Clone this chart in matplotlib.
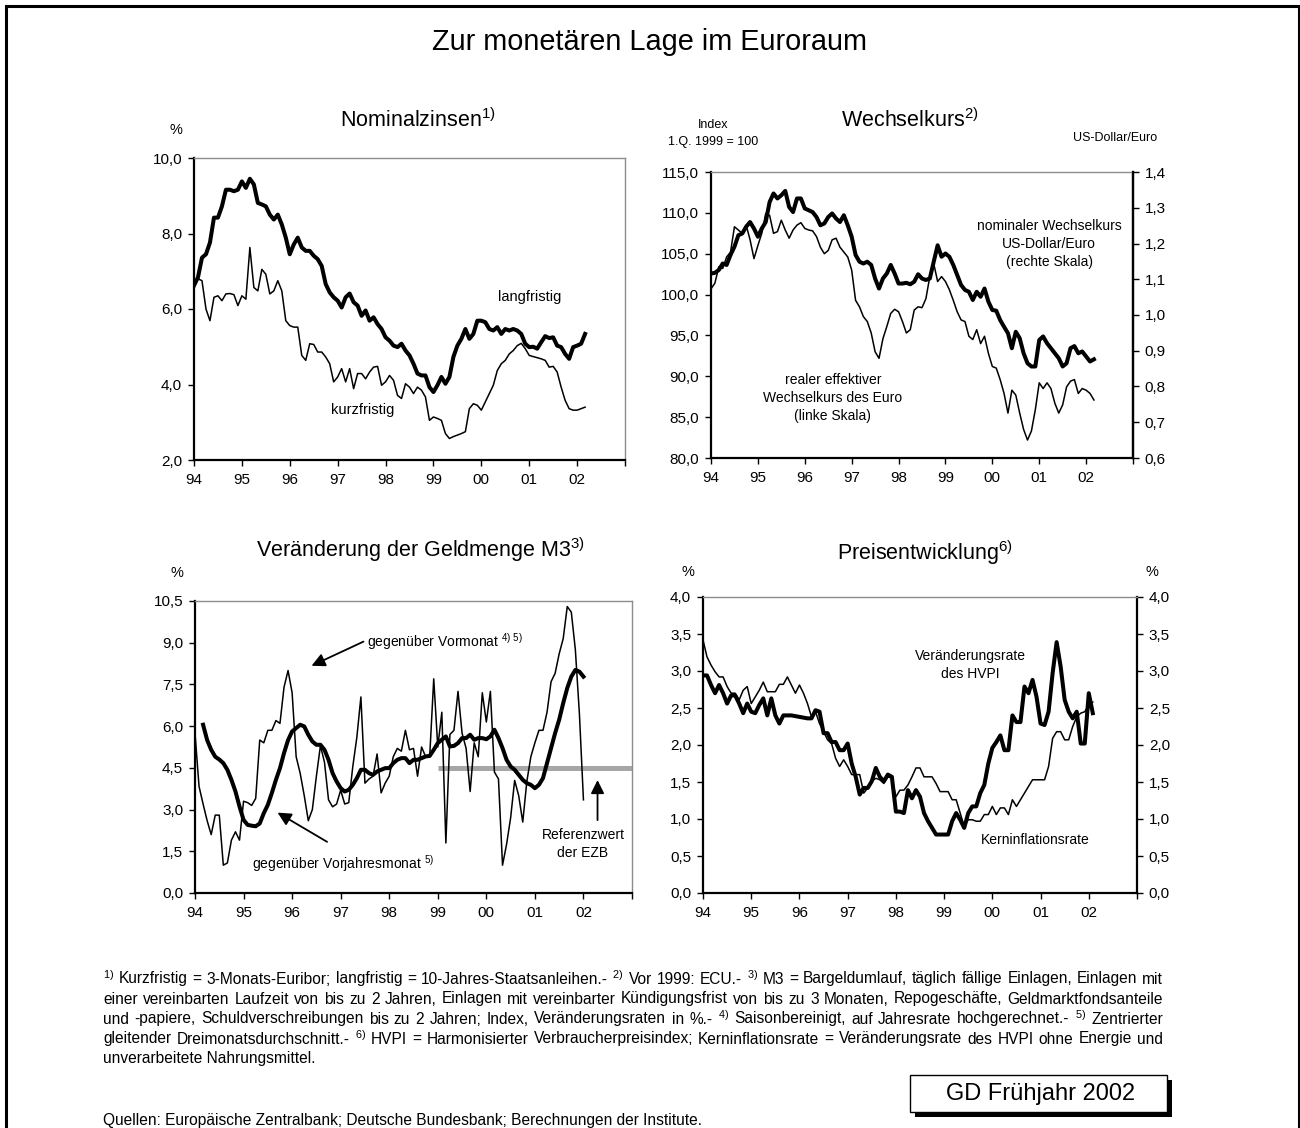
import numpy as np
import matplotlib

matplotlib.use('Agg')

import matplotlib.pyplot as plt
from matplotlib.ticker import FuncFormatter
from matplotlib.patches import Rectangle

plt.rcParams['font.family'] = ['Liberation Sans', 'DejaVu Sans']
plt.rcParams['mathtext.fontset'] = 'custom'
plt.rcParams['mathtext.rm'] = 'Liberation Sans'
plt.rcParams['mathtext.it'] = 'Liberation Sans:italic'

# monthly data, starting January 1994

zins_lang = [6.62, 6.84, 7.36, 7.45, 7.76, 8.42, 8.42, 8.72, 9.16, 9.16, 9.12, 9.16,
             9.38, 9.21, 9.45, 9.30, 8.81, 8.77, 8.72, 8.50, 8.37, 8.50, 8.24, 7.89,
             7.45, 7.71, 7.89, 7.63, 7.54, 7.54, 7.41, 7.32, 7.14, 6.66, 6.44, 6.31,
             6.22, 6.04, 6.31, 6.41, 6.18, 6.09, 5.82, 5.96, 5.69, 5.78, 5.60, 5.47,
             5.25, 5.16, 5.03, 4.99, 5.08, 4.90, 4.77, 4.55, 4.29, 4.24, 4.24, 3.93,
             3.80, 3.98, 4.20, 4.02, 4.20, 4.73, 5.03, 5.21, 5.47, 5.21, 5.34, 5.69,
             5.69, 5.65, 5.47, 5.43, 5.52, 5.34, 5.47, 5.43, 5.47, 5.43, 5.34, 5.08,
             4.99, 5.00, 4.95, 5.12, 5.28, 5.23, 5.25, 5.03, 4.99, 4.81, 4.68, 4.99,
             5.03, 5.08, 5.34]

zins_kurz = [6.62, 6.80, 6.75, 6.00, 5.69, 6.31, 6.35, 6.22, 6.40, 6.41, 6.38, 6.09,
             6.35, 6.26, 7.63, 6.57, 6.48, 7.05, 6.92, 6.40, 6.48, 6.75, 6.48, 5.69,
             5.56, 5.52, 5.52, 4.77, 4.64, 5.08, 5.06, 4.86, 4.86, 4.73, 4.55, 4.07,
             4.20, 4.42, 4.07, 4.42, 3.89, 4.29, 4.29, 4.15, 4.33, 4.46, 4.48, 3.98,
             4.07, 4.24, 4.11, 3.71, 3.63, 4.02, 3.93, 3.76, 3.93, 3.85, 3.67, 3.05,
             3.14, 3.10, 3.05, 2.70, 2.57, 2.62, 2.66, 2.70, 2.75, 3.36, 3.49, 3.45,
             3.32, 3.54, 3.76, 3.98, 4.37, 4.55, 4.64, 4.81, 4.90, 5.03, 5.09, 4.95,
             4.77, 4.74, 4.71, 4.68, 4.64, 4.46, 4.48, 4.33, 3.93, 3.58, 3.36, 3.32,
             3.32, 3.36, 3.40]

# US-Dollar/Euro (rechte Skala)
kurs_nominal = [1.116, 1.118, 1.126, 1.144, 1.140, 1.168, 1.191, 1.223, 1.228, 1.247, 1.260, 1.242,
                1.219, 1.242, 1.260, 1.316, 1.340, 1.326, 1.335, 1.347, 1.302, 1.288, 1.326, 1.326,
                1.298, 1.293, 1.288, 1.274, 1.251, 1.256, 1.274, 1.284, 1.270, 1.260, 1.279, 1.251,
                1.219, 1.168, 1.149, 1.144, 1.149, 1.140, 1.102, 1.074, 1.102, 1.116, 1.140, 1.116,
                1.088, 1.088, 1.090, 1.086, 1.093, 1.114, 1.102, 1.098, 1.102, 1.149, 1.195, 1.163,
                1.172, 1.163, 1.140, 1.112, 1.084, 1.070, 1.065, 1.042, 1.065, 1.051, 1.074, 1.037,
                1.014, 1.012, 0.986, 0.967, 0.949, 0.907, 0.953, 0.935, 0.893, 0.865, 0.856, 0.856,
                0.930, 0.940, 0.921, 0.907, 0.893, 0.879, 0.856, 0.865, 0.907, 0.913, 0.893, 0.898,
                0.884, 0.870, 0.876]

# Index 1.Q. 1999 = 100 (linke Skala)
kurs_real = [100.7, 101.4, 103.4, 103.2, 104.6, 105.2, 108.3, 107.9, 107.5, 108.5, 106.7, 104.4,
             106.0, 107.5, 109.9, 109.7, 107.5, 107.7, 109.1, 107.9, 106.9, 107.9, 108.5, 108.8,
             108.1, 107.9, 107.8, 107.1, 105.8, 105.0, 105.4, 106.7, 106.9, 105.8, 105.2, 104.6,
             103.0, 99.3, 98.5, 97.3, 96.7, 95.3, 93.0, 92.2, 94.6, 96.1, 97.7, 98.2,
             97.9, 96.7, 95.3, 95.7, 98.1, 98.5, 98.4, 99.5, 102.2, 103.8, 101.6, 102.2,
             101.6, 100.6, 99.3, 97.9, 96.9, 96.7, 94.9, 94.5, 95.7, 94.0, 94.9, 92.8,
             91.2, 91.0, 89.6, 87.9, 85.5, 88.3, 87.7, 85.5, 83.5, 82.2, 83.3, 85.9,
             89.2, 88.5, 89.2, 88.5, 86.7, 85.5, 86.5, 88.7, 89.4, 89.6, 87.9, 88.5,
             88.3, 87.9, 87.1]

m3_vormonat = [5.75, 3.83, 3.2, 2.6, 2.1, 2.8, 2.8, 1.0, 1.08, 1.9, 2.2, 1.9,
               3.3, 3.25, 3.15, 3.4, 5.5, 5.4, 5.85, 5.85, 6.2, 6.1, 7.4, 8.0,
               7.2, 4.9, 4.3, 3.5, 2.6, 3.0, 4.2, 5.3, 4.7, 3.35, 3.1, 3.2,
               3.7, 3.2, 3.25, 4.55, 5.6, 7.05, 3.95, 4.1, 4.2, 5.0, 3.6, 3.95,
               4.2, 4.9, 5.2, 5.1, 5.85, 5.15, 5.2, 4.2, 5.25, 4.9, 4.9, 7.7,
               5.25, 6.5, 1.8, 5.7, 5.85, 7.25, 5.75, 5.2, 3.65, 5.4, 4.9, 7.2,
               6.15, 7.25, 4.35, 4.1, 1.0, 1.75, 2.7, 4.05, 3.5, 2.55, 4.0, 4.9,
               5.4, 5.85, 5.85, 6.5, 7.6, 7.9, 8.6, 9.15, 10.3, 10.1, 8.75, 6.45,
               3.35]

# centred average, starts March 1994
m3_vorjahr_start = 2
m3_vorjahr = [6.05, 5.5, 5.15, 4.9, 4.8, 4.67, 4.43, 4.07, 3.65, 3.11,
              2.63, 2.45, 2.42, 2.4, 2.5, 2.87, 3.17, 3.6, 4.07, 4.49, 5.03, 5.5,
              5.81, 5.93, 6.05, 5.99, 5.69, 5.45, 5.33, 5.33, 5.15, 4.79, 4.31, 4.01,
              3.77, 3.65, 3.71, 3.89, 4.13, 4.43, 4.43, 4.31, 4.25, 4.37, 4.43, 4.49,
              4.49, 4.67, 4.79, 4.85, 4.85, 4.67, 4.79, 4.79, 4.85, 4.91, 4.93, 5.15,
              5.39, 5.51, 5.63, 5.27, 5.29, 5.39, 5.57, 5.57, 5.69, 5.51, 5.57, 5.57,
              5.53, 5.63, 5.87, 5.57, 5.21, 4.79, 4.55, 4.43, 4.25, 4.07, 3.95, 3.89,
              3.77, 3.89, 4.13, 4.67, 5.21, 5.75, 6.23, 6.83, 7.37, 7.78, 8.02, 7.96,
              7.78]

referenzwert = 4.5
referenz_ab = 1999

preis_kern = [3.42, 3.19, 3.08, 2.99, 2.92, 2.92, 2.79, 2.70, 2.70, 2.61, 2.74, 2.79,
              2.56, 2.65, 2.74, 2.85, 2.72, 2.72, 2.72, 2.82, 2.82, 2.92, 2.81, 2.70,
              2.81, 2.70, 2.56, 2.38, 2.45, 2.29, 2.18, 2.07, 2.02, 1.82, 1.71, 1.80,
              1.71, 1.60, 1.60, 1.60, 1.35, 1.42, 1.51, 1.55, 1.53, 1.48, 1.57, 1.55,
              1.30, 1.39, 1.39, 1.46, 1.57, 1.69, 1.69, 1.57, 1.57, 1.57, 1.48, 1.37,
              1.37, 1.37, 1.26, 1.26, 1.08, 0.90, 0.99, 0.99, 0.97, 0.97, 1.06, 1.06,
              1.17, 1.06, 1.15, 1.15, 1.06, 1.26, 1.17, 1.26, 1.35, 1.44, 1.53, 1.53,
              1.53, 1.53, 1.71, 2.09, 2.18, 2.18, 2.07, 2.07, 2.25, 2.38, 2.43, 2.45,
              2.54, 2.58]

preis_hvpi = [2.94, 2.94, 2.81, 2.70, 2.81, 2.70, 2.56, 2.67, 2.67, 2.56, 2.43, 2.56,
              2.45, 2.43, 2.54, 2.63, 2.40, 2.63, 2.40, 2.29, 2.40, 2.40, 2.40, 2.39,
              2.38, 2.37, 2.36, 2.36, 2.47, 2.45, 2.16, 2.16, 2.04, 2.04, 1.93, 1.93,
              2.02, 1.75, 1.57, 1.33, 1.42, 1.42, 1.51, 1.69, 1.57, 1.51, 1.60, 1.57,
              1.10, 1.10, 1.08, 1.39, 1.28, 1.39, 1.30, 1.08, 0.97, 0.88, 0.79, 0.79,
              0.79, 0.79, 0.97, 1.08, 0.99, 0.88, 1.08, 1.17, 1.17, 1.35, 1.46, 1.75,
              1.96, 2.04, 2.13, 1.93, 1.93, 2.40, 2.31, 2.31, 2.79, 2.70, 2.88, 2.65,
              2.29, 2.27, 2.45, 2.97, 3.39, 3.06, 2.61, 2.45, 2.36, 2.45, 2.02, 2.02,
              2.70, 2.43]

jahre = list(range(1994, 2004))
jahr_labels = ['94', '95', '96', '97', '98', '99', '00', '01', '02', '']

fussnoten = [
    '$^{1)}$ Kurzfristig = 3-Monats-Euribor; langfristig = 10-Jahres-Staatsanleihen.-  $^{2)}$ Vor 1999: ECU.- $^{3)}$ M3 = Bargeldumlauf, täglich fällige Einlagen, Einlagen mit',
    'einer vereinbarten Laufzeit von bis zu 2 Jahren, Einlagen mit vereinbarter Kündigungsfrist von bis zu 3 Monaten, Repogeschäfte, Geldmarktfondsanteile',
    'und -papiere, Schuldverschreibungen bis zu 2 Jahren; Index, Veränderungsraten in %.-  $^{4)}$ Saisonbereinigt, auf Jahresrate hochgerechnet.-  $^{5)}$ Zentrierter',
    'gleitender Dreimonatsdurchschnitt.- $^{6)}$ HVPI = Harmonisierter Verbraucherpreisindex; Kerninflationsrate = Veränderungsrate des HVPI ohne Energie und',
    'unverarbeitete Nahrungsmittel.',
]
quellen = 'Quellen: Europäische Zentralbank; Deutsche Bundesbank; Berechnungen der Institute.'

W, H = 1300, 1128
THICK = 2.9
THIN = 1.1
GREY = '#8c8c8c'
FN_SIZE = 11.2


def monate(n, start=0):
    return 1994 + (start + np.arange(n)) / 12.0


def komma(v, pos):
    return ('%.1f' % v).replace('.', ',')


def px_axes(fig, x0, y0, x1, y1):
    return fig.add_axes([x0 / W, 1 - y1 / H, (x1 - x0) / W, (y1 - y0) / H])


def ftext(fig, x, y, s, **kw):
    kw.setdefault('ha', 'center')
    kw.setdefault('va', 'center')
    return fig.text(x / W, 1 - y / H, s, **kw)


def style(ax, ylim, yticks, right_black=False):
    ax.set_xlim(1994, 2003)
    ax.set_ylim(*ylim)
    ax.set_xticks(jahre)
    ax.set_xticklabels(jahr_labels)
    ax.set_yticks(yticks)
    ax.yaxis.set_major_formatter(FuncFormatter(komma))
    ax.tick_params(direction='out', length=4, width=1, labelsize=11)
    ax.tick_params(axis='x', pad=5.5)
    ax.tick_params(axis='y', pad=4.5)
    for s in ['left', 'bottom']:
        ax.spines[s].set_linewidth(1.6)
        ax.spines[s].set_color('black')
    ax.spines['top'].set_linewidth(1.0)
    ax.spines['top'].set_color(GREY)
    if right_black:
        ax.spines['right'].set_linewidth(1.6)
        ax.spines['right'].set_color('black')
    else:
        ax.spines['right'].set_linewidth(1.0)
        ax.spines['right'].set_color(GREY)


def pfeil(ax, kopf, schwanz):
    ax.annotate('', xy=kopf, xytext=schwanz,
                arrowprops=dict(arrowstyle='-|>', lw=1.3, color='black',
                                mutation_scale=20, shrinkA=0, shrinkB=0))


def blocksatz(fig, x0, x1, y, zeile, **kw):
    # justified line: place the words one by one
    woerter = zeile.split()
    texte = [ftext(fig, x0, y, w, ha='left', **kw) for w in woerter]
    r = fig.canvas.get_renderer()
    breiten = [t.get_window_extent(r).width for t in texte]
    luecke = (x1 - x0 - sum(breiten)) / max(len(woerter) - 1, 1)
    luecke = max(luecke, 3.0)
    x = x0
    for t, b in zip(texte, breiten):
        t.set_x(x / W)
        x += b + luecke


fig = plt.figure(figsize=(W / 100.0, H / 100.0), dpi=100)

# outer frame
fig.patches.append(Rectangle((6.0 / W, -0.01), (1299.0 - 6) / W, 1 - 6.0 / H + 0.01,
                             transform=fig.transFigure, fill=False, lw=2.2, color='black'))

ftext(fig, 650, 42, 'Zur monetären Lage im Euroraum', fontsize=20.8)

# --- Nominalzinsen
ax1 = px_axes(fig, 194, 158, 625, 460)
style(ax1, (2, 10), [2, 4, 6, 8, 10])
ax1.plot(monate(len(zins_kurz)), zins_kurz, color='black', lw=THIN)
ax1.plot(monate(len(zins_lang)), zins_lang, color='black', lw=THICK)
ax1.text(2001.0, 6.32, 'langfristig', fontsize=10.5, ha='center', va='center')
ax1.text(1997.53, 3.32, 'kurzfristig', fontsize=10.5, ha='center', va='center')
ftext(fig, 418, 120, 'Nominalzinsen$^{1)}$', fontsize=15.5)
ftext(fig, 176, 130, '%', fontsize=10.5)

# --- Wechselkurs
ax2 = px_axes(fig, 711, 172, 1133, 458)
style(ax2, (80, 115), [80, 85, 90, 95, 100, 105, 110, 115], right_black=True)
ax2r = ax2.twinx()
ax2r.set_ylim(0.6, 1.4)
ax2r.set_yticks([0.6, 0.7, 0.8, 0.9, 1.0, 1.1, 1.2, 1.3, 1.4])
ax2r.yaxis.set_major_formatter(FuncFormatter(komma))
ax2r.tick_params(direction='out', length=4, width=1, labelsize=11, pad=4.5)
for s in ax2r.spines.values():
    s.set_visible(False)
ax2r.spines['right'].set_visible(True)
ax2r.spines['right'].set_linewidth(1.6)
ax2.plot(monate(len(kurs_real)), kurs_real, color='black', lw=THIN)
ax2r.plot(monate(len(kurs_nominal)), kurs_nominal, color='black', lw=THICK)
ax2.text(2001.21, 106.2, 'nominaler Wechselkurs\nUS-Dollar/Euro\n(rechte Skala)',
         fontsize=10, ha='center', va='center', linespacing=1.35)
ax2.text(1996.6, 87.3, 'realer effektiver\nWechselkurs des Euro\n(linke Skala)',
         fontsize=10, ha='center', va='center', linespacing=1.35)
ftext(fig, 910, 120, 'Wechselkurs$^{2)}$', fontsize=15.5)
ftext(fig, 713, 125, 'Index', fontsize=9)
ftext(fig, 713, 142, '1.Q. 1999 = 100', fontsize=9)
ftext(fig, 1115, 138, 'US-Dollar/Euro', fontsize=9)

# --- Geldmenge M3
ax3 = px_axes(fig, 195, 601, 632, 893)
style(ax3, (0, 10.5), [0, 1.5, 3, 4.5, 6, 7.5, 9, 10.5])
ax3.hlines(referenzwert, referenz_ab, 2003, color='#a6a6a6', lw=3.6, zorder=1)
ax3.plot(monate(len(m3_vormonat)), m3_vormonat, color='black', lw=THIN)
ax3.plot(monate(len(m3_vorjahr), m3_vorjahr_start), m3_vorjahr, color='black', lw=THICK)
ax3.text(1997.54, 9.05, 'gegenüber Vormonat $^{4)\\ 5)}$', fontsize=10, ha='left', va='center')
pfeil(ax3, (1996.40, 8.17), (1997.47, 9.04))
ax3.text(1995.17, 1.05, 'gegenüber Vorjahresmonat $^{5)}$', fontsize=10, ha='left', va='center')
pfeil(ax3, (1995.70, 2.89), (1996.72, 1.84))
ax3.text(2001.99, 1.77, 'Referenzwert\nder EZB', fontsize=10, ha='center', va='center',
         linespacing=1.35)
pfeil(ax3, (2002.29, 4.06), (2002.29, 2.62))
ftext(fig, 421, 550, 'Veränderung der Geldmenge M3$^{3)}$', fontsize=15.5)
ftext(fig, 177, 573, '%', fontsize=10.5)

# --- Preisentwicklung
ax4 = px_axes(fig, 703, 597, 1137, 893)
style(ax4, (0, 4), [0, 0.5, 1, 1.5, 2, 2.5, 3, 3.5, 4], right_black=True)
ax4.tick_params(axis='y', right=True, labelright=True)
ax4.plot(monate(len(preis_kern)), preis_kern, color='black', lw=THIN)
ax4.plot(monate(len(preis_hvpi)), preis_hvpi, color='black', lw=THICK)
ax4.text(1999.54, 3.08, 'Veränderungsrate\ndes HVPI', fontsize=10, ha='center', va='center',
         linespacing=1.35)
ax4.text(2000.89, 0.72, 'Kerninflationsrate', fontsize=10, ha='center', va='center')
ftext(fig, 925, 553, 'Preisentwicklung$^{6)}$', fontsize=15.5)
ftext(fig, 688, 572, '%', fontsize=10.5)
ftext(fig, 1152, 572, '%', fontsize=10.5)

# --- footnotes (justified like the original, last line left aligned)
for i, zeile in enumerate(fussnoten):
    y = 979 + i * 20
    if i < len(fussnoten) - 1:
        blocksatz(fig, 103, 1163, y, zeile, fontsize=FN_SIZE)
    else:
        ftext(fig, 103, y, zeile, fontsize=FN_SIZE, ha='left')
ftext(fig, 103, 1120, quellen, fontsize=FN_SIZE, ha='left')

# GD box with shadow
fig.patches.append(Rectangle((915.0 / W, 1 - 1117.0 / H), 257.0 / W, 37.0 / H,
                             transform=fig.transFigure, color='black', lw=0))
fig.patches.append(Rectangle((910.0 / W, 1 - 1112.0 / H), 257.0 / W, 37.0 / H,
                             transform=fig.transFigure, facecolor='white',
                             edgecolor='black', lw=1.0))
ftext(fig, 1041, 1094, 'GD Frühjahr 2002', fontsize=17)

fig.savefig('out.png', dpi=100)
